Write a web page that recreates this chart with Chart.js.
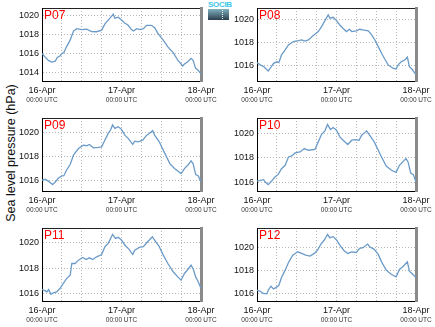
<!DOCTYPE html>
<html>
<head>
<meta charset="utf-8">
<script src="https://cdn.jsdelivr.net/npm/chart.js@4.4.1/dist/chart.umd.min.js"></script>
<style>
  html, body { margin:0; padding:0; background:#fff; width:435px; height:327px; overflow:hidden; position:relative; }
  canvas { position:absolute; }
  #ylab { position:absolute; left:11px; top:153px; transform: translate(-50%,-50%) rotate(-90deg); white-space:nowrap;
          font: 12.5px "Liberation Sans", Arial, sans-serif; color:#111; }
  #logo { position:absolute; left:208px; top:1px; width:21px; }
  #logo .t { font: bold 8px "Liberation Sans", Arial, sans-serif; color:#3cc6e6; line-height:8px; letter-spacing:-0.3px; }
  #logo .b { width:21px; height:11px; background: linear-gradient(#7fb2c0, #2c3d4c); position:relative; }
  #logo .b i { position:absolute; left:14px; top:1px; height:9px; border-left:1px dotted #fff; }
</style>
</head>
<body>
<div id="ylab">Sea level pressure (hPa)</div>
<div id="logo"><div class="t">SOCIB</div><div class="b"><i></i></div></div>
<canvas id="c07" width="225" height="110" style="left:0;top:0"></canvas>
<canvas id="c08" width="225" height="110" style="left:215px;top:0"></canvas>
<canvas id="c09" width="225" height="110" style="left:0;top:110px"></canvas>
<canvas id="c10" width="225" height="110" style="left:215px;top:110px"></canvas>
<canvas id="c11" width="225" height="110" style="left:0;top:220px"></canvas>
<canvas id="c12" width="225" height="110" style="left:215px;top:220px"></canvas>
<script>
// ---- Data (hours since 16-Apr 00:00 UTC, sea level pressure in hPa) ----
const panelNames = ['P07', 'P08', 'P09', 'P10', 'P11', 'P12'];
const dayLabels = ['16-Apr', '17-Apr', '18-Apr'];
const timeLabel = '00:00 UTC';

const p07Hours = [0,1,2,3,4,4.6,5.4,6,6.6,7.4,8.5,9.5,10.5,12,13.5,15,16.5,18,19,20.5,21.5,22,23,24,25,26,27,27.6,28.6,29.6,30.6,31.6,33,34,35,36.6,38,39.6,41,42.5,43,44,45,45.6,46.4,47,48];
const p07Values = [1016.0,1015.6,1015.25,1015.1,1015.2,1015.6,1015.74,1016.0,1016.1,1016.7,1017.4,1018.35,1018.6,1018.5,1018.55,1018.3,1018.28,1018.45,1019.1,1019.7,1020.1,1019.7,1019.8,1019.5,1019.2,1018.95,1018.5,1018.35,1018.6,1018.5,1018.6,1018.95,1018.95,1018.7,1018.1,1017.4,1016.7,1016.1,1015.3,1014.7,1014.9,1015.15,1015.5,1015.3,1014.45,1014.3,1013.9];

const p08Hours = [0,1,2,3.4,4,5,6,6.6,7.4,8.5,9.5,11,12.5,13.5,14.5,15.5,17,18.5,19.5,20.5,21.5,22,23,24,25,26,27,27.9,28.6,30,31,32,33.6,34.6,35.6,36.6,37.6,38.6,39.6,41,42,42.6,43.6,44.6,45.4,46,46.8,47.7,48];
const p08Values = [1016.23,1016.03,1015.88,1015.5,1015.74,1016.17,1016.3,1016.23,1016.9,1017.33,1017.77,1018.06,1018.14,1018.2,1018.1,1018.2,1018.58,1018.93,1019.36,1019.88,1020.38,1020.09,1020.17,1019.88,1019.5,1019.2,1018.93,1019.13,1018.93,1018.99,1019.13,1019.07,1019.0,1018.64,1018.2,1017.62,1017.04,1016.52,1016.03,1015.74,1015.68,1016.03,1016.32,1016.46,1016.7,1015.88,1015.65,1015.3,1015.2];

const p09Hours = [0,1,2,3.2,4,5,6,6.6,7.4,8.5,9.5,11,12.5,13.5,14.3,15.5,17,18,19,20,20.7,21.3,22,23,24,25,26,27.4,28,29,30.4,31.6,32.4,33.4,34,35.4,36.6,37.6,38.6,40,42,43,44,45,45.6,46.4,47.2,48];
const p09Values = [1016.06,1016.14,1015.97,1015.7,1015.92,1016.25,1016.42,1016.44,1016.89,1017.36,1018.14,1018.69,1018.97,1018.92,1019.03,1018.75,1018.78,1018.83,1019.39,1019.94,1020.22,1020.64,1020.36,1020.5,1020.28,1019.8,1019.53,1019.03,1019.3,1019.25,1019.39,1019.8,1019.94,1020.17,1019.8,1019.25,1018.56,1018.0,1017.44,1017.03,1016.61,1017.03,1017.3,1017.67,1017.44,1016.53,1016.42,1015.92];

const p10Hours = [0,1,2,2.5,3.4,4.4,5.4,6.4,7.4,8.5,9.5,10.5,11.5,13,14.3,15.5,17.5,18.5,19.5,20.5,21.3,22.2,23,24,25,26,27.4,28.6,29.6,30.8,31.6,33.1,34,35.4,36.6,37.6,39,40.6,42,43,44,45,45.6,46.4,47.2,48];
const p10Values = [1016.08,1016.14,1016.19,1016.0,1015.78,1016.08,1016.41,1016.63,1017.1,1017.38,1018.07,1018.15,1018.4,1018.48,1018.76,1018.62,1018.7,1019.31,1019.94,1020.22,1020.74,1020.33,1020.5,1020.28,1019.72,1019.45,1019.09,1019.45,1019.5,1019.45,1019.86,1020.22,1019.86,1019.31,1018.62,1018.07,1017.32,1016.97,1016.8,1017.38,1017.66,1017.93,1017.66,1016.74,1016.61,1016.0];

const p11Hours = [0,1,1.5,2,2.7,3.4,4.4,5.4,6.4,7.4,8.5,9,10,11,12.3,13.3,14.3,15.3,16.5,18,19,20,21.3,22.2,23,24,25,26.3,27.4,28,29.4,30.6,31.6,32.4,33.3,34,35.4,36.6,38,39.6,41,42,43,44,45,45.6,46.4,47.2,48];
const p11Values = [1016.37,1016.24,1016.16,1016.34,1015.97,1016.08,1016.16,1016.42,1016.81,1017.2,1017.46,1018.38,1018.38,1018.64,1018.85,1018.69,1018.82,1018.69,1018.9,1019.08,1019.69,1019.95,1020.65,1020.34,1020.42,1020.21,1019.82,1019.48,1019.08,1019.42,1019.63,1019.69,1020.0,1020.21,1020.47,1020.21,1019.69,1019.03,1018.38,1017.73,1017.33,1017.07,1017.6,1017.91,1018.25,1017.99,1017.33,1016.94,1016.42];

const p12Hours = [0,1,2,3,3.4,4.2,5,6,6.6,7.4,8.5,9.5,10.8,12.3,13.5,14.7,16,17.3,18.3,19.3,20.3,21.3,22,23,24,25,26.3,27.4,28.6,30,31,32,33.4,34,35.4,36.6,37.6,39,40.6,42,43,44,45.4,46,47,48];
const p12Values = [1016.32,1016.23,1016.03,1016.03,1016.32,1016.67,1016.43,1016.61,1016.75,1017.42,1018.06,1018.72,1019.36,1019.65,1019.51,1019.36,1019.28,1019.51,1019.8,1020.32,1020.67,1021.16,1020.87,1020.96,1020.67,1020.23,1019.74,1019.51,1019.65,1019.59,1019.94,1020.0,1020.32,1020.09,1019.86,1019.42,1018.78,1018.06,1017.68,1017.48,1018.12,1018.35,1018.78,1017.97,1017.71,1017.42];

const yMins = [1013.13, 1014.63, 1015.17, 1015.26, 1015.45, 1015.39];
const yMaxs = [1020.76, 1020.98, 1021.22, 1021.28, 1021.15, 1021.71];
const yTickStep = 2;

const allHours = [p07Hours, p08Hours, p09Hours, p10Hours, p11Hours, p12Hours];
const allValues = [p07Values, p08Values, p09Values, p10Values, p11Values, p12Values];
const canvasIds = ['c07', 'c08', 'c09', 'c10', 'c11', 'c12'];

// ---- Styling ----
Chart.defaults.font.family = '"Liberation Sans", Arial, Helvetica, sans-serif';
Chart.defaults.color = '#111';

const panelLabel = {
  id: 'panelLabel',
  afterDatasetsDraw(chart, args, opts) {
    const {ctx, chartArea} = chart;
    ctx.save();
    ctx.font = '12px "Liberation Sans", Arial, sans-serif';
    ctx.fillStyle = '#ff0000';
    ctx.textBaseline = 'top';
    ctx.fillText(opts.text, chartArea.left + 2, chartArea.top + 2);
    ctx.restore();
  }
};

function makeChart(i) {
  const pts = allHours[i].map((h, k) => ({x: h, y: allValues[i][k]}));
  const dayTick = (v) => (v % 24 === 0 ? dayLabels[v / 24] : '');
  return new Chart(document.getElementById(canvasIds[i]), {
    type: 'line',
    data: { datasets: [{ data: pts, borderColor: '#6b9bc8', borderWidth: 1.3, pointRadius: 0, tension: 0, fill: false }] },
    plugins: [panelLabel],
    options: {
      responsive: false, animation: false, devicePixelRatio: 1,
      layout: { padding: { left: 0, right: 24, top: 8, bottom: 2 } },
      plugins: { legend: { display: false }, tooltip: { enabled: false }, panelLabel: { text: panelNames[i] } },
      scales: {
        x: {
          type: 'linear', position: 'bottom', weight: 0, min: 0, max: 48,
          grid: { display: true, color: '#b8b8b8', lineWidth: 1, drawTicks: false },
          border: { display: true, color: '#000', width: 1, dash: [1, 2] },
          ticks: { stepSize: 6, autoSkip: false, maxRotation: 0, padding: 4, color: '#111',
                   font: { size: 9 }, callback: dayTick },
          afterFit: (s) => { s.height = 14; s.paddingLeft = 0; s.paddingRight = 0; }
        },
        x2: {
          type: 'linear', position: 'bottom', weight: 1, min: 0, max: 48,
          grid: { display: false, drawTicks: false },
          border: { display: false },
          ticks: { stepSize: 6, autoSkip: false, maxRotation: 0, padding: 1, color: '#333',
                   font: { size: 6.5 }, callback: (v) => (v % 24 === 0 ? timeLabel : '') },
          afterFit: (s) => { s.height = 13; s.paddingLeft = 0; s.paddingRight = 0; }
        },
        xTop: {
          type: 'linear', position: 'top', min: 0, max: 48,
          grid: { display: false, drawTicks: false },
          border: { display: true, color: '#222', width: 1 },
          ticks: { display: false },
          afterFit: (s) => { s.height = 0; s.paddingLeft = 0; s.paddingRight = 0; }
        },
        y: {
          type: 'linear', position: 'left', min: yMins[i], max: yMaxs[i],
          grid: { display: true, color: '#b8b8b8', lineWidth: 1, drawTicks: false },
          border: { display: true, color: '#000', width: 1, dash: [1, 2] },
          ticks: { stepSize: yTickStep, includeBounds: false, padding: 3, color: '#111', font: { size: 9 },
                   callback: (v) => String(v) },
          afterBuildTicks: (s) => { s.ticks = s.ticks.filter((t) => Math.abs(t.value / yTickStep - Math.round(t.value / yTickStep)) < 1e-6); },
          afterFit: (s) => { s.width = 42; s.paddingTop = 0; s.paddingBottom = 0; }
        },
        yRight: {
          type: 'linear', position: 'right', min: yMins[i], max: yMaxs[i],
          grid: { display: false, drawTicks: false },
          border: { display: true, color: '#8a8a8a', width: 3 },
          ticks: { display: false },
          afterFit: (s) => { s.width = 0; s.paddingTop = 0; s.paddingBottom = 0; }
        }
      }
    }
  });
}

for (let i = 0; i < 6; i++) makeChart(i);
</script>
</body>
</html>
